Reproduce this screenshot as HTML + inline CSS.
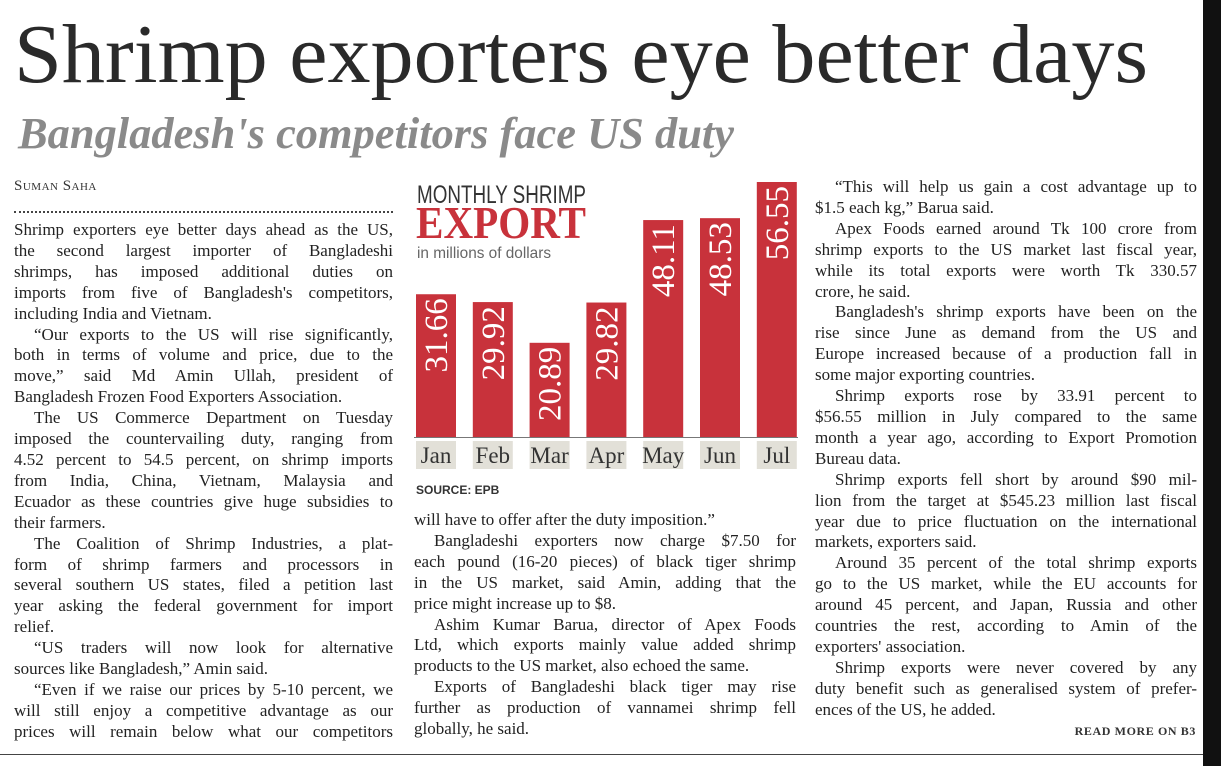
<!DOCTYPE html>
<html><head><meta charset="utf-8"><style>
body{margin:0;width:1221px;height:766px;background:#fff;position:relative;overflow:hidden;font-family:"Liberation Serif",serif;color:#222}
.col{position:absolute;font-size:17px;line-height:20.9px}
.col div{text-align:justify;text-align-last:justify;white-space:nowrap;overflow:visible}
.col div.e{text-align-last:left}
.col div.i{padding-left:20px}
.serif{font-family:"Liberation Serif",serif}
</style></head><body>
<svg style="position:absolute;left:0;top:0" width="1221" height="170">
<text x="14" y="82" font-family="Liberation Serif" font-size="84" fill="#2a2a2a" textLength="1134" lengthAdjust="spacingAndGlyphs">Shrimp exporters eye better days</text>
<text x="18" y="148" font-family="Liberation Serif" font-style="italic" font-weight="bold" font-size="44" fill="#8a8a8a" textLength="716" lengthAdjust="spacingAndGlyphs">Bangladesh's competitors face US duty</text>
</svg>
<div style="position:absolute;left:1203px;top:0;width:18px;height:766px;background:#111"></div>
<div style="position:absolute;left:0;top:754px;width:1203px;height:1px;background:#444"></div>
<div style="position:absolute;left:14px;top:178px;font-size:15px;letter-spacing:0.5px;font-variant:small-caps;color:#333">Suman Saha</div>
<div style="position:absolute;left:14px;top:211px;width:379px;border-top:2px dotted #444"></div>

<div class="col" style="left:14px;top:220px;width:379px">
<div>Shrimp exporters eye better days ahead as the US,</div>
<div>the second largest importer of Bangladeshi</div>
<div>shrimps, has imposed additional duties on</div>
<div>imports from five of Bangladesh's competitors,</div>
<div class="e">including India and Vietnam.</div>
<div class="i">“Our exports to the US will rise significantly,</div>
<div>both in terms of volume and price, due to the</div>
<div>move,” said Md Amin Ullah, president of</div>
<div class="e">Bangladesh Frozen Food Exporters Association.</div>
<div class="i">The US Commerce Department on Tuesday</div>
<div>imposed the countervailing duty, ranging from</div>
<div>4.52 percent to 54.5 percent, on shrimp imports</div>
<div>from India, China, Vietnam, Malaysia and</div>
<div>Ecuador as these countries give huge subsidies to</div>
<div class="e">their farmers.</div>
<div class="i">The Coalition of Shrimp Industries, a plat-</div>
<div>form of shrimp farmers and processors in</div>
<div>several southern US states, filed a petition last</div>
<div>year asking the federal government for import</div>
<div class="e">relief.</div>
<div class="i">“US traders will now look for alternative</div>
<div class="e">sources like Bangladesh,” Amin said.</div>
<div class="i">“Even if we raise our prices by 5-10 percent, we</div>
<div>will still enjoy a competitive advantage as our</div>
<div>prices will remain below what our competitors</div>
</div>

<div class="col" style="left:414px;top:510px;width:382px">
<div class="e">will have to offer after the duty imposition.”</div>
<div class="i">Bangladeshi exporters now charge $7.50 for</div>
<div>each pound (16-20 pieces) of black tiger shrimp</div>
<div>in the US market, said Amin, adding that the</div>
<div class="e">price might increase up to $8.</div>
<div class="i">Ashim Kumar Barua, director of Apex Foods</div>
<div>Ltd, which exports mainly value added shrimp</div>
<div class="e">products to the US market, also echoed the same.</div>
<div class="i">Exports of Bangladeshi black tiger may rise</div>
<div>further as production of vannamei shrimp fell</div>
<div class="e">globally, he said.</div>
</div>

<div class="col" style="left:815px;top:177px;width:382px">
<div class="i">“This will help us gain a cost advantage up to</div>
<div class="e">$1.5 each kg,” Barua said.</div>
<div class="i">Apex Foods earned around Tk 100 crore from</div>
<div>shrimp exports to the US market last fiscal year,</div>
<div>while its total exports were worth Tk 330.57</div>
<div class="e">crore, he said.</div>
<div class="i">Bangladesh's shrimp exports have been on the</div>
<div>rise since June as demand from the US and</div>
<div>Europe increased because of a production fall in</div>
<div class="e">some major exporting countries.</div>
<div class="i">Shrimp exports rose by 33.91 percent to</div>
<div>$56.55 million in July compared to the same</div>
<div>month a year ago, according to Export Promotion</div>
<div class="e">Bureau data.</div>
<div class="i">Shrimp exports fell short by around $90 mil-</div>
<div>lion from the target at $545.23 million last fiscal</div>
<div>year due to price fluctuation on the international</div>
<div class="e">markets, exporters said.</div>
<div class="i">Around 35 percent of the total shrimp exports</div>
<div>go to the US market, while the EU accounts for</div>
<div>around 45 percent, and Japan, Russia and other</div>
<div>countries the rest, according to Amin of the</div>
<div class="e">exporters' association.</div>
<div class="i">Shrimp exports were never covered by any</div>
<div>duty benefit such as generalised system of prefer-</div>
<div class="e">ences of the US, he added.</div>
</div>
<div style="position:absolute;left:1000px;top:724px;width:196px;text-align:right;font-size:12px;font-weight:bold;letter-spacing:0.6px;color:#333">READ MORE ON B3</div>

<svg id="chart" style="position:absolute;left:0;top:0" width="1221" height="766">
<text x="417" y="203" font-family="Liberation Sans" font-size="25" fill="#333" textLength="169" lengthAdjust="spacingAndGlyphs">MONTHLY SHRIMP</text>
<text x="416" y="238" font-family="Liberation Serif" font-weight="bold" font-size="46" fill="#c8323b" textLength="170" lengthAdjust="spacingAndGlyphs">EXPORT</text>
<text x="417" y="258" font-family="Liberation Sans" font-size="16" fill="#666" textLength="134" lengthAdjust="spacingAndGlyphs">in millions of dollars</text>
<text x="416" y="494" font-family="Liberation Sans" font-weight="bold" font-size="12" fill="#333">SOURCE: EPB</text>
<g id="bars"></g>
</svg>
<script>
const categories=["Jan","Feb","Mar","Apr","May","Jun","Jul"];
const values=[31.66,29.92,20.89,29.82,48.11,48.53,56.55];
const labels=["31.66","29.92","20.89","29.82","48.11","48.53","56.55"];
const base=437, x0=416, pitch=56.8, bw=40, scale=255/56.55;
const y=v=>base-v*scale;
const xb=i=>x0+i*pitch;
const g=document.getElementById('bars');
const ns="http://www.w3.org/2000/svg";
function mk(t,a){const e=document.createElementNS(ns,t);for(const k in a)e.setAttribute(k,a[k]);g.appendChild(e);return e;}
mk('line',{x1:414,x2:798,y1:base+0.5,y2:base+0.5,stroke:'#777','stroke-width':1});
values.forEach((v,i)=>{
  const r=mk('rect',{x:xb(i),y:y(v),width:bw,height:base-y(v),fill:'#c8323b'});
  
  
  const cx=xb(i)+bw/2+11, ty=y(v)+4;
  const t=mk('text',{x:0,y:0,transform:`translate(${cx},${ty}) rotate(-90)`,'text-anchor':'end',fill:'#fff'});
  t.setAttribute('style','font-family:"Liberation Serif",serif;font-size:33px');
  t.textContent=labels[i];
  
  
  const b=mk('rect',{x:xb(i),y:441,width:bw,height:28,fill:'#e2e0d8'});
  
  
  const l=mk('text',{x:xb(i)+bw/2,y:463,'text-anchor':'middle',fill:'#333'});
  l.setAttribute('style','font-family:"Liberation Serif",serif;font-size:23px');
  l.textContent=categories[i];
  
  
});
</script>
</body></html>
